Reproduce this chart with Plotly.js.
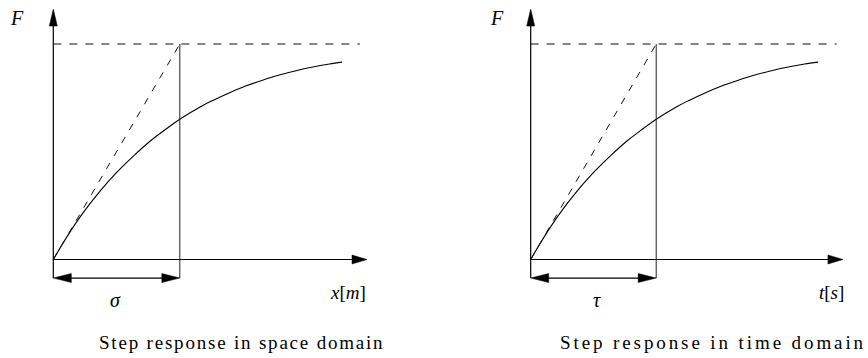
<!DOCTYPE html>
<html>
<head>
<meta charset="utf-8">
<script src="https://cdn.plot.ly/plotly-3.0.1.min.js"></script>
<style>
  html, body { margin: 0; padding: 0; background: #ffffff; }
  #chart { width: 868px; height: 358px; }
</style>
</head>
<body>
<div id="chart"></div>
<script>
// Normalised step response: abscissa in units of the constant (sigma or tau),
// ordinate in units of the final value F_inf.
const spaceX = [0, 0.1, 0.225, 0.371, 0.503, 0.635, 0.767, 0.9, 1.0, 1.164, 1.257, 1.389, 1.521, 1.654, 1.786, 1.918, 2.051, 2.183, 2.283];
const spaceF = [0, 0.098, 0.208, 0.318, 0.405, 0.481, 0.550, 0.609, 0.651, 0.709, 0.737, 0.773, 0.805, 0.832, 0.856, 0.876, 0.893, 0.907, 0.916];
const timeX  = [0, 0.1, 0.225, 0.371, 0.503, 0.635, 0.767, 0.9, 1.0, 1.164, 1.257, 1.389, 1.521, 1.654, 1.786, 1.918, 2.051, 2.183, 2.290];
const timeF  = [0, 0.098, 0.208, 0.318, 0.405, 0.481, 0.550, 0.609, 0.651, 0.709, 0.737, 0.773, 0.805, 0.832, 0.856, 0.876, 0.893, 0.907, 0.916];

const sigma = 1;      // space constant
const tau = 1;        // time constant
const finalValue = 1; // asymptote F_inf

const captions = ['Step response in space domain', 'Step response in time domain'];
const axisLabels = ['<i>x</i>[<i>m</i>]', '<i>t</i>[<i>s</i>]'];
const constLabels = ['<i>σ</i>', '<i>τ</i>'];
const yLabel = '<i>F</i>';

// Geometry of the sketch (in normalised units)
const W = 868, H = 358;
const yAxisTop = 1.162;     // tip of the F arrow
const bracketY = -0.086;    // level of the sigma / tau dimension arrow
const panels = [
  { xa: 'x',  ya: 'y', xs: spaceX, fs: spaceF, k: sigma, arrowTip: 2.48,  dashEnd: 2.423 },
  { xa: 'x2', ya: 'y', xs: timeX,  fs: timeF,  k: tau,   arrowTip: 2.488, dashEnd: 2.438 }
];

const ink = '#000000';
const serif = 'Liberation Serif';
const traces = [];
const shapes = [];

function tri(xref, yref, ax, ay, path) {
  return {
    type: 'path', xref: xref, yref: yref,
    xsizemode: 'pixel', ysizemode: 'pixel',
    xanchor: ax, yanchor: ay, path: path,
    fillcolor: ink, line: { color: ink, width: 0.5 }, layer: 'above'
  };
}
function seg(xref, yref, x0, y0, x1, y1, color, width, dash) {
  return {
    type: 'line', xref: xref, yref: yref, x0: x0, y0: y0, x1: x1, y1: y1,
    line: { color: color, width: width, dash: dash || 'solid' }, layer: 'above'
  };
}

panels.forEach(function (p) {
  // response curve
  traces.push({
    x: p.xs, y: p.fs, xaxis: p.xa, yaxis: p.ya, type: 'scatter', mode: 'lines',
    line: { color: ink, width: 1.1, shape: 'spline', smoothing: 1 },
    hoverinfo: 'skip', showlegend: false
  });
  // tangent at the origin
  traces.push({
    x: [0, p.k], y: [0, finalValue], xaxis: p.xa, yaxis: p.ya, type: 'scatter', mode: 'lines',
    line: { color: '#111111', width: 1, dash: '7px,8px' }, hoverinfo: 'skip', showlegend: false
  });
  // asymptote
  traces.push({
    x: [0, p.dashEnd], y: [finalValue, finalValue], xaxis: p.xa, yaxis: p.ya, type: 'scatter', mode: 'lines',
    line: { color: '#111111', width: 1, dash: '8px,8px' }, hoverinfo: 'skip', showlegend: false
  });

  // axes
  shapes.push(seg(p.xa, p.ya, 0, bracketY, 0, yAxisTop - 0.05, ink, 1.2));
  shapes.push(seg(p.xa, p.ya, 0, 0, p.arrowTip - 0.05, 0, ink, 1.2));
  shapes.push(tri(p.xa, p.ya, 0, yAxisTop, 'M0,0 L-4,-17 L4,-17 Z'));
  shapes.push(tri(p.xa, p.ya, p.arrowTip, 0, 'M0,0 L-15,4.5 L-15,-4.5 Z'));

  // marker line at the constant
  shapes.push(seg(p.xa, p.ya, p.k, bracketY, p.k, finalValue, '#222222', 1));

  // dimension arrow from 0 to the constant
  shapes.push(seg(p.xa, p.ya, 0.1, bracketY, p.k - 0.1, bracketY, ink, 1.2));
  shapes.push(tri(p.xa, p.ya, 0, bracketY, 'M0,0 L18,4.5 L18,-4.5 Z'));
  shapes.push(tri(p.xa, p.ya, p.k, bracketY, 'M0,0 L-18,4.5 L-18,-4.5 Z'));
});

function note(px, py, text, size, spacing) {
  const body = spacing ? '<span style="letter-spacing:' + spacing + 'px">' + text + '</span>' : text;
  return {
    xref: 'paper', yref: 'paper', x: px / W, y: 1 - py / H,
    xanchor: 'center', yanchor: 'middle', showarrow: false,
    text: body, font: { family: serif, size: size, color: ink }
  };
}

const annotations = [
  note(17, 18, yLabel, 20),
  note(497, 18, yLabel, 20),
  note(348, 292, axisLabels[0], 19),
  note(831, 292, axisLabels[1], 19),
  note(115, 300, constLabels[0], 20),
  note(597, 300, constLabels[1], 20),
  note(241, 342, captions[0], 19, 1.8),
  note(713, 342, captions[1], 19, 2.9)
];

// pixel -> data ranges: origin at x=53.3 / 530.7 px, y=259.5 px
function axisRange(originPx, scale, startPx, endPx) {
  return [(startPx - originPx) / scale, (endPx - originPx) / scale];
}

const layout = {
  width: W, height: H,
  margin: { l: 0, r: 0, t: 0, b: 0, pad: 0 },
  paper_bgcolor: '#ffffff', plot_bgcolor: '#ffffff',
  showlegend: false,
  xaxis:  { domain: [0, 0.5], range: axisRange(53.3, 126.5, 0, 434), visible: false, fixedrange: true },
  xaxis2: { domain: [0.5, 1], range: axisRange(530.7, 125.5, 434, 868), visible: false, fixedrange: true, anchor: 'y' },
  yaxis:  { domain: [0, 1], range: [-(358 - 259.5) / 215.5, 259.5 / 215.5], visible: false, fixedrange: true },
  shapes: shapes,
  annotations: annotations
};

Plotly.newPlot('chart', traces, layout, { staticPlot: true, displayModeBar: false });
</script>
</body>
</html>
